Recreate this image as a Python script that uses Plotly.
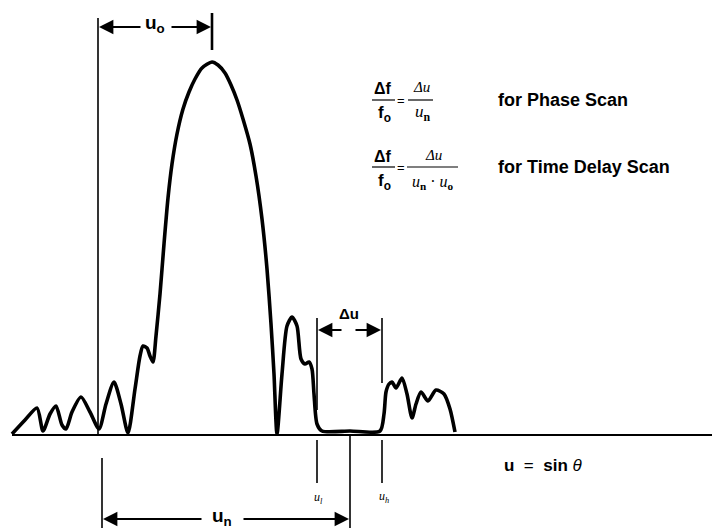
import plotly.graph_objects as go

# ---- data (horizontal position ~ u, vertical ~ relative amplitude above baseline) ----
curve_u = [12, 25, 37, 43, 50, 56, 62, 66, 72, 81, 90, 99, 106, 114, 121, 128,
           135, 140, 143, 147, 150, 153, 156, 160, 164, 168, 172, 177, 183, 189,
           195, 202, 212, 218, 225, 231, 237, 243, 250, 256, 262, 267, 271, 274,
           277, 282, 287, 292, 297, 301, 305, 309, 312, 314, 317, 322, 350, 380,
           384, 386, 389, 392, 396, 402, 407, 412, 416, 421, 428, 436, 444, 450, 455]
curve_amp = [0, 14, 26, 3, 20, 28, 9, 5, 22, 37, 22, 5, 30, 52, 30, 1,
             45, 78, 88, 86, 78, 72, 98, 140, 190, 236, 270, 300, 325, 342,
             355, 366, 372, 369, 361, 349, 334, 315, 290, 258, 215, 165, 110, 60,
             0, 60, 108, 117, 108, 75, 70, 72, 65, 40, 10, 3, 3, 3,
             20, 42, 50, 52, 46, 56, 40, 16, 30, 42, 33, 44, 40, 25, 2]

u_ref = 98        # reference line (start of u_o and u_n)
u_beam = 212      # beam peak
u_grating = 350   # end of u_n
u_low = 317       # u_l
u_high = 382      # u_h

FONT = "Liberation Sans"
SERIF = "Liberation Serif"

fig = go.Figure()

fig.add_trace(go.Scatter(x=curve_u, y=curve_amp, mode="lines",
                         line=dict(color="black", width=3.6, shape="spline", smoothing=0.7),
                         hoverinfo="skip", showlegend=False))

shapes = []
def vline(x, y0, y1, w=1.6):
    shapes.append(dict(type="line", x0=x, x1=x, y0=y0, y1=y1, xref="x", yref="y",
                       line=dict(color="black", width=w)))
def hline(x0, x1, y, w=1.6):
    shapes.append(dict(type="line", x0=x0, x1=x1, y0=y, y1=y, xref="x", yref="y",
                       line=dict(color="black", width=w)))

# baseline
hline(12, 712, -1, 2.2)
# u_o lines
vline(u_ref, 0, 416, 1.6)
vline(u_beam, 384, 421, 2.6)
# delta u lines
vline(u_low, 24, 116, 1.6)
vline(u_high, 51, 116, 1.6)
# below-axis ticks
vline(u_low, -6, -49, 1.6)
vline(u_high, -6, -49, 1.6)
vline(u_grating, 0, -94, 1.6)
vline(u_ref + 4, -24, -94, 1.6)
# fraction bars
hline(372, 395, 334, 1.2)
hline(408, 433, 334, 1.2)
hline(372, 395, 267, 1.2)
hline(407, 458, 267, 1.2)

ann = []
def arrow(x_head, x_tail, y):
    ann.append(dict(x=x_head, y=y, ax=x_tail, ay=y, xref="x", yref="y", axref="x", ayref="y",
                    text="", showarrow=True, arrowhead=2, arrowsize=1.6, arrowwidth=1.8,
                    arrowcolor="black"))
def text(x, y, s, size=15, family=FONT, xanchor="center"):
    ann.append(dict(x=x, y=y, xref="x", yref="y", text=s, showarrow=False,
                    font=dict(family=family, size=size, color="black"), xanchor=xanchor,
                    yanchor="middle"))

# u_o dimension
arrow(u_ref + 1, 142, 407)
arrow(u_beam - 1, 170, 407)
text(155, 410, "<b>u<sub>o</sub></b>", 19)
# delta u dimension
arrow(u_low + 1, 343, 104)
arrow(u_high - 1, 354, 104)
text(349, 121, "<b>Δu</b>", 15)
# u_n dimension
arrow(u_ref + 5, 203, -85)
arrow(u_grating - 1, 242, -85)
text(222, -83, "<b>u<sub>n</sub></b>", 19)
# small labels
text(318, -64, "<i>u<sub>l</sub></i>", 12, SERIF)
text(384, -63, "<i>u<sub>h</sub></i>", 12, SERIF)
# axis label
text(502, -31, "<b>u</b>  =  <b>sin</b> <i>θ</i>", 17, xanchor="left")
# formulas
text(383, 346, "<b>Δf</b>", 16)
text(384, 320, "<b>f<sub>o</sub></b>", 17)
text(401, 334, "=", 13)
text(421, 347, "<i>Δu</i>", 15, SERIF)
text(423, 321, "<i>u</i><b><sub>n</sub></b>", 17, SERIF)
text(496, 334, "<b>for Phase Scan</b>", 18, xanchor="left")

text(383, 278, "<b>Δf</b>", 16)
text(384, 252, "<b>f<sub>o</sub></b>", 17)
text(401, 267, "=", 13)
text(433, 279, "<i>Δu</i>", 15, SERIF)
text(433, 252, "<i>u</i><b><sub>n</sub></b> · <i>u</i><b><sub>o</sub></b>", 16, SERIF)
text(496, 267, "<b>for Time Delay Scan</b>", 18, xanchor="left")

fig.update_layout(
    width=712, height=531, margin=dict(l=0, r=0, t=0, b=0),
    paper_bgcolor="white", plot_bgcolor="white",
    xaxis=dict(range=[0, 712], visible=False, fixedrange=True),
    yaxis=dict(range=[-97, 434], visible=False, fixedrange=True),
    shapes=shapes, annotations=ann, showlegend=False,
)

fig.write_html("out.html")
